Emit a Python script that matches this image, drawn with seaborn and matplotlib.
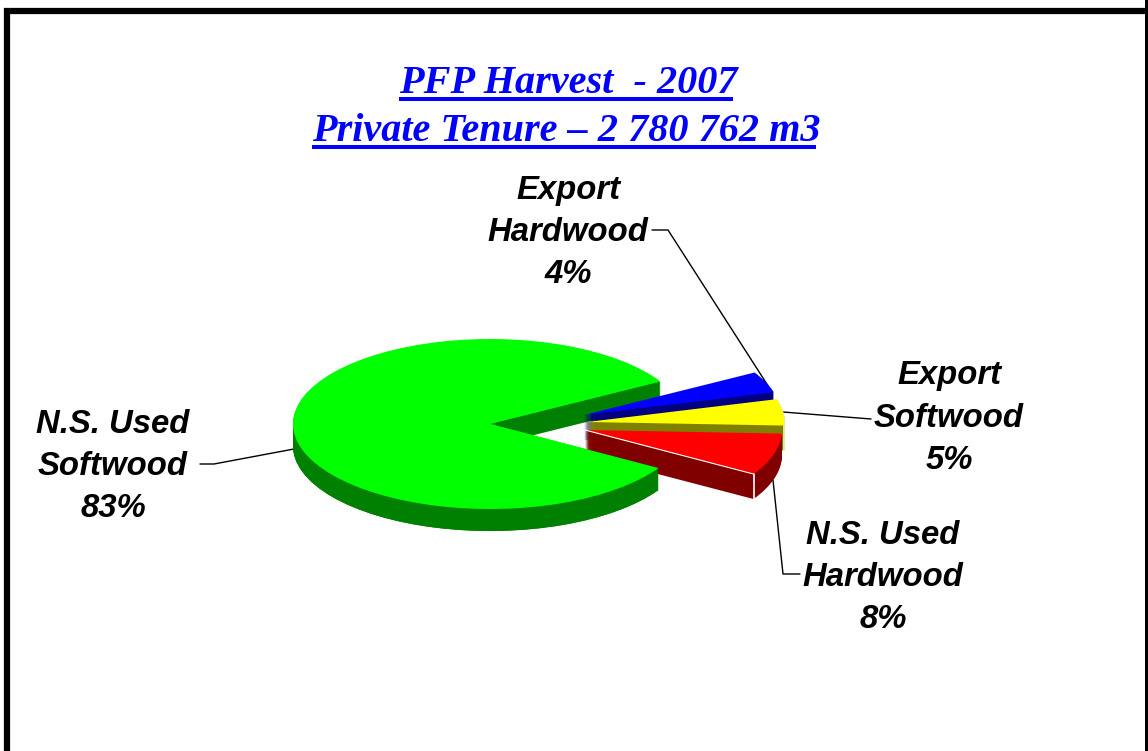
import numpy as np
import matplotlib
matplotlib.use('Agg')
import matplotlib.pyplot as plt
from matplotlib.patches import Rectangle
import seaborn as sns

# data
title_lines = ['PFP Harvest  - 2007', 'Private Tenure \u2013 2 780 762 m3']
slices = ['N.S. Used\nSoftwood', 'N.S. Used\nHardwood', 'Export\nSoftwood', 'Export\nHardwood']
values = [83, 8, 5, 4]

top_cols = ['#00ff00', '#ff0000', '#ffff00', '#0000ff']
wall_cols = ['#008000', '#800000', '#808000', '#000080']
centers = [(490, 424), (585, 430), (587, 422), (584, 415)]      # px on the picture
depths = [22, 25, 25, 25]
top_z = [2, 5, 4, 3]
wall_z = [2, 4.2, 3.9, 2.9]
label_pos = [(113, 466.5), (883, 577.5), (949, 418), (568, 232.5)]

W, H = 1148, 751
RX, RY = 197.0, 85.0


def px(x, y):
    return x / RX, (H - y) / RY


sns.set_theme(style='white')
plt.rcParams['font.family'] = ['Liberation Sans', 'DejaVu Sans']

fig = plt.figure(figsize=(W / 100, H / 100), dpi=100)
ax = fig.add_axes([0, 0, 1, 1])


def one_slice(val, col, start, center, z):
    ax.pie([val, 100 - val], colors=[col, 'none'], startangle=start, center=center, radius=1,
           wedgeprops={'linewidth': 0, 'zorder': z})


start = 30
starts = []
for i, v in enumerate(values):
    starts.append(start)
    cx, cy = centers[i]
    wx = cx
    # pale outer rim of the yellow slice
    if i == 2:
        wx = cx - 1
        for d in range(1, depths[i] + 1):
            one_slice(v, '#e6e6a0', start, px(cx + 1, cy + d), wall_z[i] - 0.1)
    for d in range(1, depths[i] + 1):
        one_slice(v, wall_cols[i], start, px(wx, cy + d), wall_z[i])
    one_slice(v, top_cols[i], start, px(cx, cy), top_z[i])
    start += v * 3.6

# lower half of the green slice sits in front of the red wall
half = values[0] / 2
cx, cy = centers[0]
for d in range(1, depths[0] + 1):
    one_slice(half, wall_cols[0], starts[0] + half * 3.6, px(cx, cy + d), 4.5)
one_slice(half, top_cols[0], starts[0] + half * 3.6, px(cx, cy), 4.6)

# white edge on the front of the red slice
a = np.deg2rad(starts[1])
cx, cy = centers[1]
ex, ey = cx + RX * np.cos(a), cy - RY * np.sin(a)
ax.plot(*zip(px(cx, cy), px(ex, ey)), color='white', lw=0.8, zorder=6)
ax.plot(*zip(px(ex, ey), px(ex, ey + depths[1])), color='white', lw=1.2, zorder=6)

ax.set_aspect('auto')
ax.set_xlim(0, W / RX)
ax.set_ylim(0, H / RY)
ax.set_axis_off()
sns.despine(ax=ax, left=True, bottom=True)

# leader lines
leaders = [
    [(200, 464), (214, 464), (294, 449)],
    [(773, 480), (783, 574), (800, 574)],
    [(783, 412), (871, 419)],
    [(652, 230), (668, 230), (772, 392)],
]
for pts in leaders:
    ax.plot(*zip(*[px(x, y) for x, y in pts]), color='black', lw=1, zorder=1)

# labels
for name, v, (x, y) in zip(slices, values, label_pos):
    ax.text(*px(x, y), name + '\n%d%%' % v, ha='center', va='center', fontsize=23.7,
            fontweight='bold', fontstyle='italic', color='black', linespacing=1.46,
            zorder=7)

# title with underline
fig.canvas.draw()
for line, x, y, uy in zip(title_lines, [568, 566], [93, 141], [99, 147]):
    t = ax.text(*px(x, y), line, ha='center', va='baseline', fontsize=29, color='#0000ff',
                family=['Liberation Serif', 'DejaVu Serif'], fontweight='bold', fontstyle='italic',
                zorder=7)
    bb = t.get_window_extent(fig.canvas.get_renderer())
    ax.plot(*zip(px(bb.x0, uy), px(bb.x1 - 4, uy)), color='#0000ff', lw=2.9, zorder=7,
            solid_capstyle='butt')

# frame, bottom edge runs off the picture
ax.add_patch(Rectangle(px(7, H + 30), (W + 20 - 7) / RX, (H + 30 - 11) / RY, fill=False,
                       edgecolor='black', lw=4.5, zorder=8, clip_on=True))
ax.add_patch(Rectangle(px(1145, H), 5 / RX, H / RY, color='black', lw=0, zorder=8))

fig.savefig('out.png', dpi=100, facecolor='white')
